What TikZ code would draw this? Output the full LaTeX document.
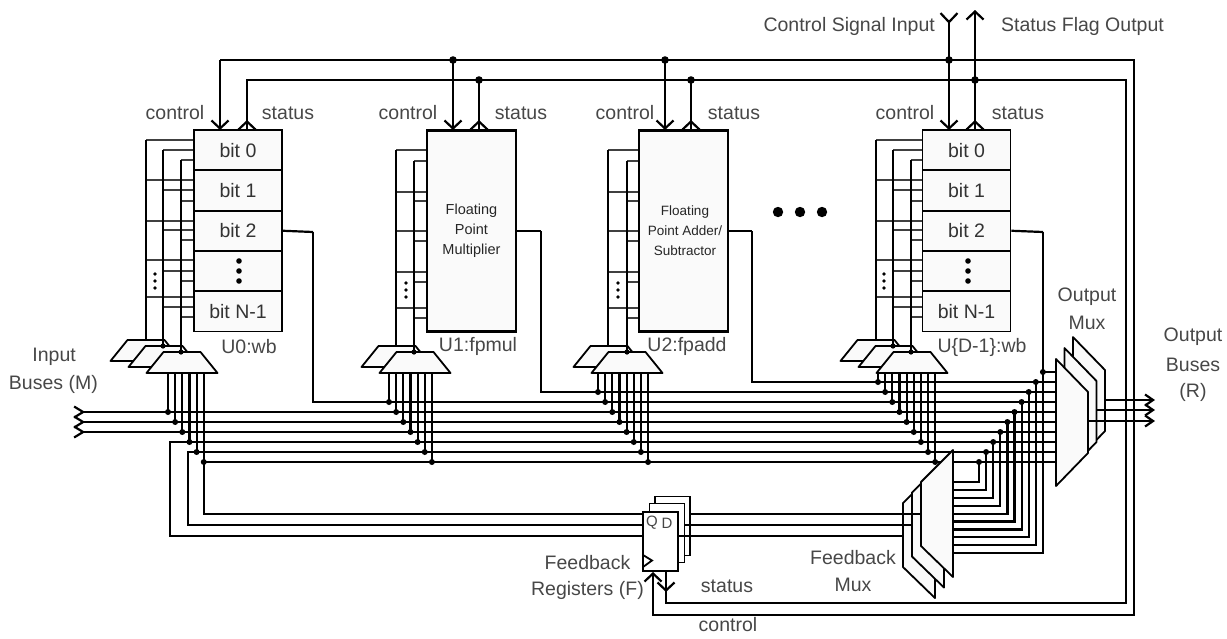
\documentclass[tikz,border=0pt]{standalone}
\usepackage{fontspec}
\setmainfont{Liberation Sans}
\usetikzlibrary{arrows.meta}
\definecolor{boxfill}{gray}{0.98}
\tikzset{
  wire/.style={line width=2.2pt},
  stub/.style={line width=1.6pt, black!75},
  lbl/.style={text=black!72, font=\fontsize{19.5}{23}\selectfont, inner sep=0pt, align=center},
  smalllbl/.style={text=black!85, font=\fontsize{14.5}{20}\selectfont, inner sep=0pt, align=center},
  bitcell/.style={draw, fill=boxfill, line width=1.8pt, minimum width=88pt, minimum height=40.3pt, inner sep=0pt, text=black!80, font=\fontsize{19.5}{23}\selectfont},
  unitbox/.style={draw, fill=boxfill, line width=2.6pt, minimum width=89pt, minimum height=201pt, inner sep=0pt},
  regbox/.style={draw, fill=white, line width=1.8pt, minimum width=35pt, minimum height=59pt, inner sep=0pt},
  muxshape/.style={draw, fill=boxfill, line width=1.8pt, line join=round},
  bigtip/.style={-{Straight Barb[length=8pt,width=17pt]}},
  bustip/.style={-{Straight Barb[length=8pt,width=11pt]}},
}
\begin{document}
\begin{tikzpicture}[x=1pt,y=-1pt]
\useasboundingbox (0,0) rectangle (1227,638);

\draw[wire] (220,60) -- (1134,60) -- (1134,615) -- (653,615) -- (653,590);
\draw[wire] (666,585) -- (666,603) -- (1126,603) -- (1126,80) -- (247,80) -- (247,120);
\draw[wire,bigtip] (653,590) -- (653,572);
\draw[wire,bigtip] (666,572) -- (666,592);
\draw[wire,{Straight Barb[reversed,length=9pt,width=17pt]}-] (949,12) -- (949,60);
\draw[wire,bigtip] (975,80) -- (975,10);

\foreach \cx/\sx in {220/247,453/479,665/691,949/975} {
  \draw[wire,bigtip] (\cx,60) -- (\cx,130);
  \draw[wire] (\sx,80) -- (\sx,122);
  \draw[wire,bigtip] (\sx,130) -- (\sx,120);
}
\foreach \cx/\sx in {453/479,665/691,949/975} {
  \fill (\cx,60) circle (3.8);
  \fill (\sx,80) circle (3.8);
}

\foreach \yy in {412,422,432}
  \draw[wire,{Straight Barb[reversed,length=9pt,width=11pt]}-] (73,\yy) -- (1056,\yy);
\draw[wire] (313,232) -- (313,402) -- (1056,402);
\draw[wire] (541,231) -- (541,392) -- (1056,392);
\draw[wire] (752,231) -- (752,382) -- (1056,382);
\draw[wire] (1043,232) -- (1043,372) -- (1056,372);
\draw[wire] (1056,442) -- (170,442) -- (170,536) -- (643,536);
\draw[wire] (1056,452) -- (188,452) -- (188,525) -- (643,525);
\draw[wire] (1056,462) -- (204,462) -- (204,514) -- (643,514);

\foreach \i in {0,...,9} {
  \pgfmathsetmacro{\vx}{979+7.1*\i}
  \pgfmathsetmacro{\vt}{462-10*\i}
  \pgfmathsetmacro{\vb}{482+7.9*\i}
  \draw[wire] (953,\vb) -- (\vx,\vb) -- (\vx,\vt);
  \fill (\vx,\vt) circle (3);
}

\foreach \bx/\vx/\vt/\stubs in {
  194/146/140/{180,221,260,297},
  194/163/150/{190,230,271,307},
  194/181/160/{201,240,281,317},
  427/396/150/{192,231,272,308},
  427/414/161/{201,241,282,318},
  639/608/150/{192,231,272,308},
  639/627/161/{201,241,282,318},
  923/876/140/{180,221,260,297},
  923/893/150/{190,230,271,307},
  923/911/160/{201,240,281,317}} {
  \foreach \sy in \stubs
    \draw[stub] (\vx,\sy) -- (\bx,\sy);
  \draw[stub] (\bx,\vt) -- (\vx,\vt);
}

\foreach \mx/\my in {146/340,164/346,182/352,397/346,415/352,609/346,627/352,876/340,894/346,912/352}
  \draw[muxshape] (\mx-18.5,\my) -- (\mx+18.5,\my) -- (\mx+35.5,\my+21) -- (\mx-35.5,\my+21) -- cycle;

\foreach \vx/\vt/\vb in {146/140/340,163/150/346,181/160/352,396/150/346,414/161/352,608/150/346,627/161/352,876/140/340,893/150/346,911/160/352}
  \draw[wire] (\vx,\vt) -- (\vx,\vb);
\foreach \vx/\vb in {163/346,181/352,414/352,627/352,893/346,911/352}
  \fill (\vx,\vb) circle (2.6);

\foreach \xs/\ys/\n in {168/412/5,389/402/6,598/392/7,878/382/8} {
  \foreach \i in {0,...,\n} {
    \pgfmathsetmacro{\vx}{\xs+7.15*\i}
    \pgfmathsetmacro{\vy}{\ys+10*\i}
    \draw[wire] (\vx,373) -- (\vx,\vy);
    \fill (\vx,\vy) circle (3);
  }
}

\node[bitcell] (ubit0) at (238,150.25) {bit 0};
\node[bitcell] (ubit1) at (238,190.5) {bit 1};
\node[bitcell] (ubit2) at (238,230.75) {bit 2};
\node[bitcell] (ubit3) at (238,271) {};
\node[bitcell] (ubit4) at (238,311.25) {bit N-1};
\node[bitcell] (vbit0) at (966.5,150.25) {bit 0};
\node[bitcell] (vbit1) at (966.5,190.5) {bit 1};
\node[bitcell] (vbit2) at (966.5,230.75) {bit 2};
\node[bitcell] (vbit3) at (966.5,271) {};
\node[bitcell] (vbit4) at (966.5,311.25) {bit N-1};
\node[unitbox] (fpmul) at (471.5,231) {};
\node[unitbox] (fpadd) at (683.5,231) {};
\node[smalllbl] (mullbl) at (fpmul) {Floating\\Point\\Multiplier};
\node[smalllbl,font=\fontsize{13.5}{20}\selectfont] (addlbl) at (685,231) {Floating\\Point Adder/\\Subtractor};

\draw[wire] (ubit2.east) -- (313,232);
\draw[wire] (fpmul.east) -- (541,231);
\draw[wire] (fpadd.east) -- (752,231);
\draw[wire] (vbit2.east) -- (1043,232);

\foreach \dx/\dy/\dr in {239/261/2.8,239/271/2.8,239/281/2.8,968/261/2.8,968/271/2.8,968/281/2.8,
  155/274/1.8,155/281/1.8,155/288/1.8,406/283/1.8,406/290/1.8,406/297/1.8,
  618/283/1.8,618/290/1.8,618/297/1.8,884/274/1.8,884/281/1.8,884/288/1.8,
  778/212/5.2,800/212/5.2,822/212/5.2}
  \fill (\dx,\dy) circle (\dr);

\foreach \mo in {18,9,0} {
  \draw[muxshape] (921-\mo,482+\mo*1.17) -- (953-\mo,450+\mo*1.17) -- (953-\mo,577+\mo*1.17) -- (921-\mo,546+\mo*1.17) -- cycle;
}
\foreach \mo in {17,8.5,0} {
  \draw[muxshape] (1056+\mo,359-\mo*1.29) -- (1088+\mo,392-\mo*1.29) -- (1088+\mo,453-\mo*1.29) -- (1056+\mo,486-\mo*1.29) -- cycle;
}

\node[regbox] (reg2) at (672.5,526) {};
\draw[wire] (reg2.east |- 0,514) -- (921,514);
\node[regbox] (reg1) at (667,533) {};
\draw[wire] (reg1.east |- 0,525) -- (912,525);
\node[regbox] (reg0) at (660.5,541.5) {};
\draw[wire] (reg0.east |- 0,536) -- (903,536);
\node[lbl,font=\fontsize{15}{18}\selectfont] (qlbl) at (652,523) {Q};
\node[lbl,font=\fontsize{15}{18}\selectfont] (dlbl) at (667,523) {D};
\draw[line width=1.8pt] (643,555) -- (652,560.5) -- (643,567);

\draw[wire,bustip] (1106,400) -- (1155,400);
\draw[wire,bustip] (1097,410) -- (1155,410);
\draw[wire,bustip] (1088,421) -- (1155,421);

\foreach \cx/\sx in {175/288,408/521,625/734,905/1018} {
  \node[lbl] at (\cx,113) {control};
  \node[lbl] at (\sx,113) {status};
}
\node[lbl,anchor=east] (ctllbl) at (935,26) {Control Signal Input};
\node[lbl,anchor=west] (stalbl) at (1001,26) {Status Flag Output};
\node[lbl] (u0lbl) at (249,347) {U0:wb};
\node[lbl] (u1lbl) at (478,346) {U1:fpmul};
\node[lbl] (u2lbl) at (687,346) {U2:fpadd};
\node[lbl] (u3lbl) at (982,347) {U\{D-1\}:wb};
\node[lbl,anchor=east] (inlbl) at (76,357) {Input};
\node[lbl,anchor=east] (buslbl) at (98,384) {Buses (M)};
\node[lbl] (omuxlbl) at (1087,297) {Output};
\node[lbl] (omuxlbl2) at (1087,323) {Mux};
\node[lbl] (obuslbl) at (1193,337) {Output};
\node[lbl] (obuslbl2) at (1193,365) {Buses};
\node[lbl] (obuslbl3) at (1193,392) {(R)};
\node[lbl] (fmuxlbl) at (853,558) {Feedback};
\node[lbl] (fmuxlbl2) at (853,585) {Mux};
\node[lbl] (freglbl) at (587.5,563) {Feedback};
\node[lbl,anchor=east] (freglbl2) at (644,590) {Registers (F)};
\node[lbl] (stlbl) at (727,586) {status};
\node[lbl] (ctlbl) at (728,625) {control};
\end{tikzpicture}
\end{document}
